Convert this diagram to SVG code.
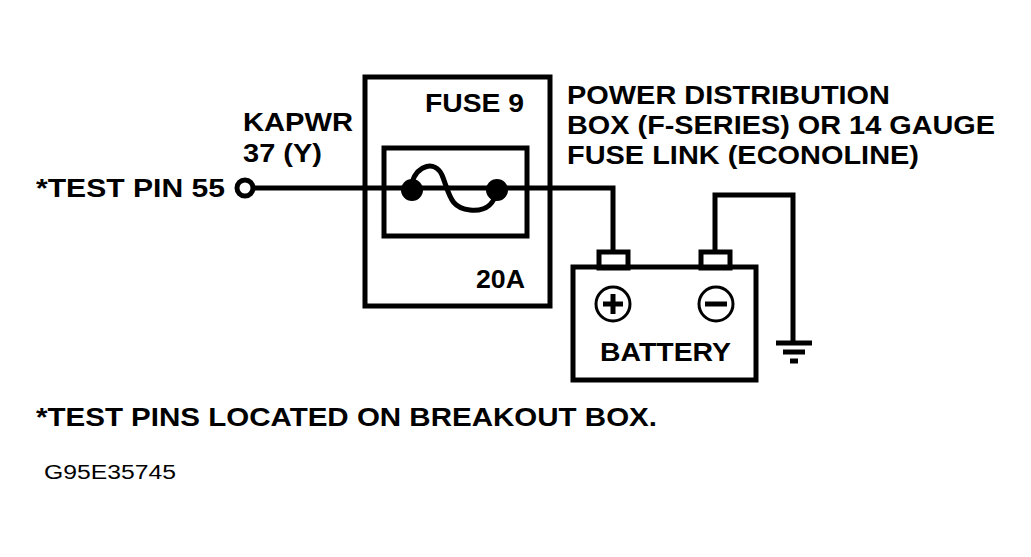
<svg xmlns="http://www.w3.org/2000/svg" width="1031" height="557" viewBox="0 0 1031 557">
<style>
text{font-family:"Liberation Sans",Arial,sans-serif;font-weight:bold;font-size:26px;fill:#000}
.s{fill:none;stroke:#000;stroke-width:5}
.t{fill:none;stroke:#000;stroke-width:3}
</style>
<rect width="1031" height="557" fill="#fff"/>
<g id="connectors">
<path class="s" d="M253 188H613V252"/>
<path class="s" d="M715 252V195H793V342"/>
<path class="s" d="M776 343H812M783 352H805M790 361H798"/>
</g>
<g id="testpin">
<circle cx="245" cy="188" r="8" fill="#fff" stroke="#000" stroke-width="5"/>
<text x="36" y="197" textLength="189" lengthAdjust="spacingAndGlyphs">*TEST PIN 55</text>
<text x="243" y="131" textLength="110" lengthAdjust="spacingAndGlyphs">KAPWR</text>
<text x="243" y="162" textLength="79" lengthAdjust="spacingAndGlyphs">37 (Y)</text>
</g>
<g id="fuse">
<rect class="s" x="365" y="77" width="185" height="229"/>
<rect class="s" x="384" y="148" width="143" height="88"/>
<path class="s" d="M412 182C418 165 435 160 442 175C450 195 450 208 470 210C490 212 495 200 497 190"/>
<circle cx="412" cy="190" r="11"/>
<circle cx="497" cy="190" r="11"/>
<text x="425" y="112" textLength="99" lengthAdjust="spacingAndGlyphs">FUSE 9</text>
<text x="476" y="288" textLength="49" lengthAdjust="spacingAndGlyphs">20A</text>
</g>
<g id="battery">
<rect class="s" x="573" y="267" width="183" height="113"/>
<rect class="s" x="599" y="252" width="29" height="16"/>
<rect class="s" x="701" y="252" width="29" height="16"/>
<circle class="t" cx="613" cy="304" r="17"/>
<path d="M603 304H623M613 294V314" stroke="#000" stroke-width="5"/>
<circle class="t" cx="716" cy="304" r="17"/>
<path d="M705 304H727" stroke="#000" stroke-width="5"/>
<text x="600" y="361" textLength="131" lengthAdjust="spacingAndGlyphs">BATTERY</text>
</g>
<g id="labels">
<text x="567" y="104" textLength="323" lengthAdjust="spacingAndGlyphs">POWER DISTRIBUTION</text>
<text x="567" y="134" textLength="428" lengthAdjust="spacingAndGlyphs">BOX (F-SERIES) OR 14 GAUGE</text>
<text x="567" y="164" textLength="352" lengthAdjust="spacingAndGlyphs">FUSE LINK (ECONOLINE)</text>
<text x="36" y="426" textLength="621" lengthAdjust="spacingAndGlyphs">*TEST PINS LOCATED ON BREAKOUT BOX.</text>
<text x="44" y="479" textLength="132" lengthAdjust="spacingAndGlyphs" style="font-weight:normal;font-size:20px">G95E35745</text>
</g>
</svg>
